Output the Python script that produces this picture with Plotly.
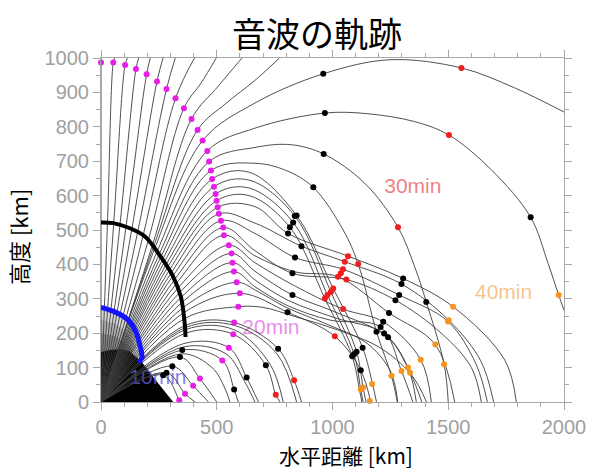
import plotly.graph_objects as go

# ---------------- data (km) ----------------
# rays leaving through the top of the frame
top_rays_x = [
    [0, 0],
    [0, 28, 53, 59],
    [0, 55, 104, 114],
    [0, 82, 151, 163],
    [0, 108, 197, 213],
    [0, 133, 242, 268],
    [0, 158, 283, 321],
    [0, 182, 322, 404],
    [0, 205, 358, 432, 498],
    [0, 224, 391, 505, 609],
    [0, 229, 417, 540, 665, 771],
]
top_rays_y = [
    [0, 1000],
    [0, 521, 987, 1000],
    [0, 520, 980, 1000],
    [0, 515, 968, 1000],
    [0, 509, 953, 1000],
    [0, 502, 932, 1000],
    [0, 493, 910, 1000],
    [0, 484, 883, 1000],
    [0, 472, 854, 927, 1000],
    [0, 460, 823, 917, 1000],
    [0, 455, 791, 868, 935, 1000],
]
# high arcs
arc_rays_x = [
    [0, 232, 439, 665, 960, 1250, 1557, 1787, 2000],
    [0, 242, 459, 665, 967, 1152, 1355, 1503, 1686, 1856, 1931, 1977, 2000],
    [0, 251, 467, 665, 820, 962, 1139, 1283, 1355, 1405, 1482, 1500],
    [0, 258, 475, 665, 800, 917, 1046, 1111, 1190, 1255, 1280],
]
arc_rays_y = [
    [0, 446, 760, 869, 954, 995, 971, 913, 843],
    [0, 437, 730, 796, 840, 838, 815, 776, 675, 537, 403, 311, 267],
    [0, 429, 699, 740, 748, 721, 636, 508, 393, 291, 110, 0],
    [0, 421, 673, 694, 673, 624, 500, 401, 204, 75, 0],
]
# steep descending rays
steep_rays_x = [
    [0, 265, 480, 640, 845, 1003, 1130, 1173, 1190],
    [0, 273, 488, 640, 837, 993, 1104, 1132, 1145],
    [0, 280, 495, 640, 830, 978, 1093, 1122, 1132],
    [0, 287, 499, 640, 816, 967, 1085, 1118, 1127],
    [0, 356, 600, 806, 1010, 1122, 1165],
]
steep_rays_y = [
    [0, 413, 648, 668, 542, 330, 158, 52, 0],
    [0, 406, 626, 645, 541, 320, 146, 42, 0],
    [0, 398, 605, 622, 522, 311, 139, 36, 0],
    [0, 391, 585, 600, 508, 301, 133, 30, 0],
    [0, 259, 316, 261, 191, 92, 0],
]
# flatter long rays
flat_rays_x = [
    [0, 295, 504, 665, 808, 1067, 1305, 1521, 1744, 1794],
    [0, 302, 509, 665, 866, 1053, 1298, 1502, 1640, 1696],
    [0, 310, 518, 665, 838, 1045, 1288, 1499, 1620, 1669],
    [0, 318, 528, 665, 827, 1060, 1272, 1470, 1600, 1643],
    [0, 324, 531, 665, 840, 1024, 1244, 1444, 1528],
    [0, 331, 552, 665, 830, 1046, 1219, 1381, 1427],
    [0, 338, 564, 665, 827, 1010, 1240, 1335, 1386],
    [0, 344, 568, 665, 810, 1010, 1223, 1326, 1362],
    [0, 349, 574, 665, 800, 990, 1208, 1298, 1347],
    [0, 352, 586, 680, 800, 980, 1150, 1250, 1282],
    [0, 359, 593, 700, 830, 1020, 1200, 1340, 1406],
]
flat_rays_y = [
    [0, 383, 566, 568, 490, 424, 359, 277, 122, 0],
    [0, 374, 547, 520, 453, 408, 343, 238, 120, 0],
    [0, 366, 527, 490, 420, 386, 311, 234, 110, 0],
    [0, 356, 507, 440, 374, 356, 296, 200, 100, 0],
    [0, 343, 485, 425, 378, 364, 259, 167, 0],
    [0, 330, 456, 405, 340, 270, 233, 123, 0],
    [0, 317, 432, 380, 311, 262, 188, 85, 0],
    [0, 303, 405, 355, 295, 245, 199, 100, 0],
    [0, 289, 379, 335, 282, 238, 218, 90, 0],
    [0, 273, 348, 320, 275, 225, 170, 90, 0],
    [0, 242, 277, 275, 250, 210, 160, 80, 0],
]
# low rays
low_rays_x = [
    [0, 362, 575, 765, 834, 866],
    [0, 365, 571, 712, 755, 773],
    [0, 358, 552, 629, 680],
    [0, 351, 524, 575, 593],
    [0, 341, 427, 500],
    [0, 308, 398, 464],
    [0, 283, 363, 406],
    [0, 269, 338, 345],
    [0, 346, 480, 535, 557],
    [0, 355, 540, 620, 665],
    [0, 364, 575, 730, 787],
    [0, 363, 580, 760, 845],
]
low_rays_y = [
    [0, 222, 231, 155, 63, 0],
    [0, 200, 197, 107, 21, 0],
    [0, 170, 158, 71, 0],
    [0, 151, 121, 36, 0],
    [0, 131, 68, 0],
    [0, 104, 47, 0],
    [0, 85, 24, 0],
    [0, 78, 5, 0],
    [0, 140, 100, 40, 0],
    [0, 160, 140, 60, 0],
    [0, 210, 210, 110, 0],
    [0, 216, 222, 140, 0],
]
# dense near-source bundle (outline) and the grey fan above it
bundle_x = [0, 0, 45, 89, 125, 161, 176, 240, 290, 312]
bundle_y = [0, 145, 152, 153, 147, 126, 116, 60, 18, 0]
fan_outer_x = [0, 0, 60, 118, 154, 168, 176, 0]
fan_outer_y = [0, 275, 262, 238, 199, 165, 141, 0]
fan_mid_x = [0, 0, 60, 115, 150, 0]
fan_mid_y = [0, 240, 228, 200, 160, 0]
fan_inner_x = [0, 0, 60, 110, 140, 0]
fan_inner_y = [0, 200, 192, 170, 148, 0]

# wavefronts
t10_x = [0, 60, 118, 154, 168, 176, 176, 161]
t10_y = [275, 262, 238, 199, 165, 141, 126, 116]
t15_x = [0, 53, 125, 190, 262, 312, 345, 355, 363, 365]
t15_y = [522, 520, 505, 481, 418, 364, 306, 267, 218, 189]
t20_x = [0, 53, 104, 151, 197, 242, 283, 322, 358, 391, 417, 439, 459, 467, 475,
         480, 488, 495, 499, 504, 509, 518, 528, 531, 552, 564, 568, 574, 586, 600,
         593, 575, 571, 552, 524, 427, 398, 363, 338]
t20_y = [987, 987, 980, 968, 953, 932, 910, 883, 854, 823, 791, 760, 730, 699, 673,
         648, 626, 605, 585, 566, 547, 527, 507, 485, 456, 432, 405, 379, 348, 316,
         277, 231, 197, 158, 121, 68, 47, 24, 5]
black_x = [351, 341, 308, 283, 269,
           960, 967, 962, 917, 845, 837, 830, 816, 808, 866, 838, 827, 827, 806, 765,
           712, 629, 575,
           1305, 1298, 1288, 1272, 1244, 1219, 1208, 1190, 1223, 1240, 1405, 1130,
           1104, 1093, 1085, 1122, 1856]
black_y = [151, 131, 104, 85, 78,
           954, 840, 721, 624, 542, 541, 522, 508, 490, 453, 420, 374, 311, 261, 155,
           107, 71, 36,
           359, 343, 311, 296, 259, 233, 218, 204, 199, 188, 291, 158,
           146, 139, 133, 92, 537]
t30_x = [1557, 1503, 1283, 1111, 1067, 1053, 1060, 1045, 1036, 1024, 1003, 993, 978,
         967, 1046, 1010, 834, 755]
t30_y = [971, 776, 508, 401, 424, 408, 356, 386, 374, 364, 330, 320, 311, 301, 270,
         191, 63, 21]
t40_x = [1977, 1521, 1502, 1499, 1444, 1482, 1381, 1326, 1335, 1298, 1255, 1171,
         1132, 1122, 1161]
t40_y = [311, 277, 238, 234, 167, 110, 123, 100, 85, 90, 76, 52, 42, 36, 3]

labels = ["10min", "20min", "30min", "40min"]
label_x = [246, 734, 1347, 1739]
label_y = [69, 212, 622, 316]
label_colors = ["rgba(95,95,235,0.8)", "rgba(230,110,230,0.8)",
                "rgba(235,95,95,0.8)", "rgba(245,185,120,0.85)"]

x_ticks = [0, 500, 1000, 1500, 2000]
y_ticks = [0, 100, 200, 300, 400, 500, 600, 700, 800, 900, 1000]

# ---------------- figure ----------------
fig = go.Figure()

for fx, fy, fc in [(fan_outer_x, fan_outer_y, "rgba(0,0,0,0.16)"),
                   (fan_mid_x, fan_mid_y, "rgba(0,0,0,0.16)"),
                   (fan_inner_x, fan_inner_y, "rgba(0,0,0,0.22)"),
                   (bundle_x, bundle_y, "black")]:
    fig.add_trace(go.Scatter(x=fx, y=fy, mode="lines", fill="toself",
                             fillcolor=fc, line=dict(width=0), hoverinfo="skip"))

for t, lx, ly, c in zip(labels, label_x, label_y, label_colors):
    fig.add_trace(go.Scatter(x=[lx], y=[ly], mode="text", text=[t],
                             textfont=dict(family="Liberation Sans", size=21, color=c),
                             hoverinfo="skip"))

ray_color = "#3c3c3c"
for xs_list, ys_list in [(top_rays_x, top_rays_y), (arc_rays_x, arc_rays_y),
                         (steep_rays_x, steep_rays_y), (flat_rays_x, flat_rays_y),
                         (low_rays_x, low_rays_y)]:
    for xs, ys in zip(xs_list, ys_list):
        fig.add_trace(go.Scatter(x=xs, y=ys, mode="lines",
                                 line=dict(color=ray_color, width=0.9, shape="spline",
                                           smoothing=1.0),
                                 hoverinfo="skip"))

fig.add_trace(go.Scatter(x=t10_x, y=t10_y, mode="lines",
                         line=dict(color="#1414ff", width=5, shape="spline"),
                         cliponaxis=False))
fig.add_trace(go.Scatter(x=t15_x, y=t15_y, mode="lines",
                         line=dict(color="black", width=4, shape="spline"),
                         cliponaxis=False))
fig.add_trace(go.Scatter(x=t20_x, y=t20_y, mode="markers",
                         marker=dict(color="#e61ee6", size=6), cliponaxis=False))
fig.add_trace(go.Scatter(x=black_x, y=black_y, mode="markers",
                         marker=dict(color="black", size=6), cliponaxis=False))
fig.add_trace(go.Scatter(x=t30_x, y=t30_y, mode="markers",
                         marker=dict(color="#f01e1e", size=6), cliponaxis=False))
fig.add_trace(go.Scatter(x=t40_x, y=t40_y, mode="markers",
                         marker=dict(color="#f7941d", size=6), cliponaxis=False))

axis_common = dict(showgrid=False, zeroline=False, showline=True, linecolor="#a8a8a8",
                   linewidth=1, mirror="allticks", ticks="outside", ticklen=7,
                   tickcolor="#a8a8a8", tickwidth=1, automargin=False,
                   tickfont=dict(family="Liberation Sans", size=20, color="#a0a0a0"))

fig.update_xaxes(range=[0, 2000], tickvals=x_ticks,
                 minor=dict(dtick=100, ticks="outside", ticklen=4, tickcolor="#a8a8a8"),
                 **axis_common)
fig.update_yaxes(range=[0, 1000], tickvals=y_ticks,
                 minor=dict(dtick=50, ticks="outside", ticklen=4, tickcolor="#a8a8a8"),
                 **axis_common)

fig.update_layout(
    width=596, height=470,
    margin=dict(l=101, r=32, t=58, b=68, autoexpand=False),
    plot_bgcolor="white", paper_bgcolor="white",
    showlegend=False,
    title=dict(text="音波の軌跡", x=317 / 596, xref="container", xanchor="center",
               y=1 - 35 / 470, yref="container", yanchor="middle",
               font=dict(family="Noto Sans CJK JP", size=34, color="black")),
    annotations=[
        dict(text="水平距離 [km]", x=(346 - 101) / 463, y=-(455 - 402) / 344,
             xref="paper", yref="paper",
             showarrow=False, xanchor="center", yanchor="middle",
             font=dict(family="Noto Sans CJK JP", size=21, color="black")),
        dict(text="高度 [km]", x=-(101 - 18) / 463, y=(402 - 237) / 344,
             xref="paper", yref="paper",
             showarrow=False, xanchor="center", yanchor="middle", textangle=-90,
             font=dict(family="Noto Sans CJK JP", size=22, color="black")),
    ],
)

fig.write_html("out.html", config={"displayModeBar": False},
               post_script="document.body.style.margin='0px';"
                           "document.body.style.overflow='hidden';")
